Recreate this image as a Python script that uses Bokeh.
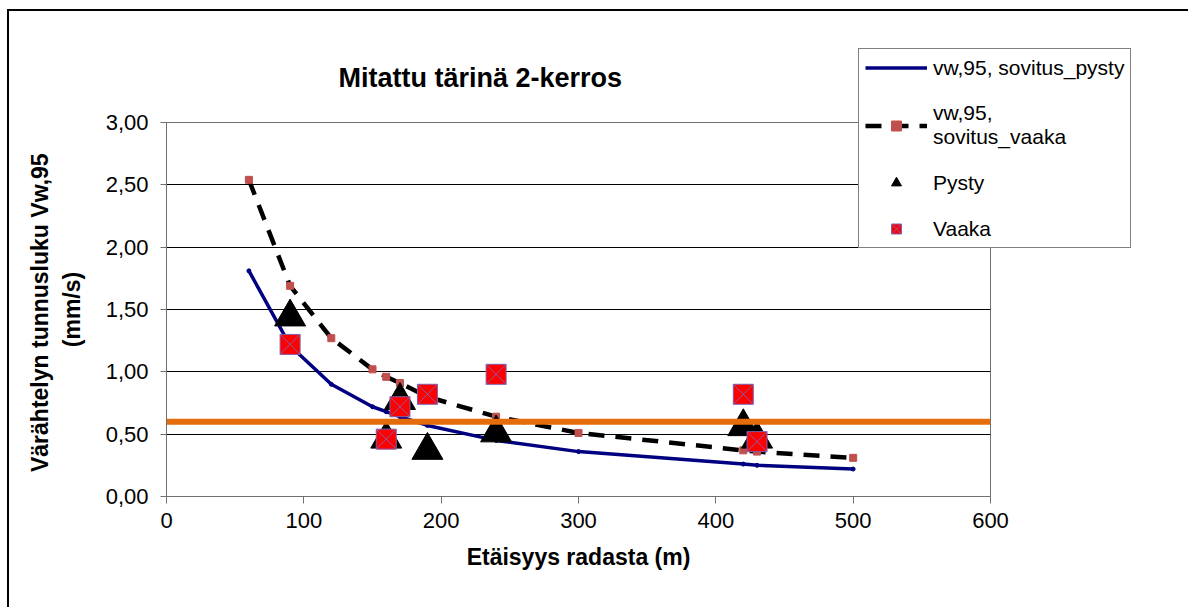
from bokeh.plotting import figure
from bokeh.models import FixedTicker, CustomJSTickFormatter, Legend, LegendItem
from bokeh.embed import file_html
from bokeh.resources import INLINE

# ---- data ----
fit_x = [60, 90, 120, 150, 160, 170, 190, 240, 300, 420, 430, 500]
fit_pysty = [1.81, 1.21, 0.90, 0.72, 0.68, 0.64, 0.57, 0.45, 0.36, 0.26, 0.25, 0.22]
fit_vaaka = [2.54, 1.69, 1.27, 1.02, 0.96, 0.91, 0.80, 0.64, 0.51, 0.37, 0.36, 0.31]

meas_x = [90, 160, 170, 190, 240, 420, 430]
pysty = [1.44, 0.46, 0.77, 0.37, 0.51, 0.56, 0.46]
vaaka = [1.22, 0.46, 0.72, 0.82, 0.98, 0.82, 0.44]

limit_x = [0, 600]
limit_y = [0.60, 0.60]

x_ticks = [0, 100, 200, 300, 400, 500, 600]
y_ticks = [0.0, 0.5, 1.0, 1.5, 2.0, 2.5, 3.0]

FONT = "Liberation Sans"

p = figure(frame_width=824, frame_height=374, output_backend="svg", toolbar_location=None,
           x_range=(0, 600), y_range=(0, 3),
           min_border_left=157, min_border_right=198,
           min_border_top=111, min_border_bottom=111,
           background_fill_color="white", border_fill_color="white")
p.styles = {"margin-left": "7px", "margin-top": "9px",
            "border-left": "2px solid black", "border-top": "2px solid black"}

# title
p.title.text = "Mitattu tärinä 2-kerros"
p.title.text_font = FONT
p.title.text_font_size = "27px"
p.title.text_font_style = "bold"
p.title.text_color = "black"
p.title.align = "left"
p.title.offset = 172
p.title.standoff = 60

# axes
p.xaxis.ticker = FixedTicker(ticks=x_ticks)
p.yaxis.ticker = FixedTicker(ticks=y_ticks)
p.yaxis.formatter = CustomJSTickFormatter(code="return tick.toFixed(2).replace('.', ',');")
for ax in (p.xaxis, p.yaxis):
    ax.axis_line_color = "#707070"
    ax.major_tick_line_color = "#707070"
    ax.minor_tick_line_color = None
    ax.major_tick_in = 0
    ax.major_label_text_font = FONT
    ax.major_label_text_font_size = "22px"
    ax.major_label_text_color = "black"
    ax.axis_label_text_font = FONT
    ax.axis_label_text_font_size = "23px"
    ax.axis_label_text_font_style = "bold"
    ax.axis_label_text_color = "black"
p.xaxis.major_tick_out = 7
p.yaxis.major_tick_out = 6
p.yaxis.major_label_standoff = 12
p.xaxis.major_label_standoff = 9
p.xaxis.axis_label = "Etäisyys radasta (m)"
p.yaxis.axis_label = "Värähtelyn tunnusluku  Vw,95\n(mm/s)"
p.yaxis.axis_label_standoff = 18
p.xaxis.axis_label_standoff = 13

p.xgrid.visible = False
p.ygrid.grid_line_color = "black"
p.ygrid.grid_line_width = 1
p.outline_line_color = "#707070"

# fitted curves
r_pl = p.line(fit_x, fit_pysty, line_color="#000080", line_width=3.5)
r_pm = p.scatter(fit_x, fit_pysty, marker="circle", size=4, color="#000080")
r_vl = p.line(fit_x, fit_vaaka, line_color="black", line_width=4.5, line_dash="16 11")
r_vm = p.scatter(fit_x, fit_vaaka, marker="square", size=7, color="#C0504D")

# measurements
r_tri = p.scatter(meas_x, pysty, marker="triangle", size=31, color="black")
r_sq = p.scatter(meas_x, vaaka, marker="square_x", size=20, fill_color="#FF0000",
                 line_color="#8060B0", line_width=1)

# limit line
p.line(limit_x, limit_y, line_color="#E46C0A", line_width=6)

legend = Legend(items=[
    LegendItem(label="vw,95, sovitus_pysty", renderers=[r_pl]),
    LegendItem(label="vw,95,\nsovitus_vaaka", renderers=[r_vl, r_vm]),
    LegendItem(label="Pysty", renderers=[r_tri]),
    LegendItem(label="Vaaka", renderers=[r_sq]),
], location=(-132, 248))
legend.border_line_color = "black"
legend.border_line_width = 1
legend.background_fill_color = "white"
legend.background_fill_alpha = 1
legend.padding = 6
legend.spacing = 21
legend.margin = -45
legend.label_height = 25
legend.glyph_height = 25
legend.glyph_width = 62
legend.label_standoff = 6
legend.label_text_font = FONT
legend.label_text_font_size = "21px"
legend.label_text_color = "black"
p.add_layout(legend, "right")

open("out.html", "w").write(file_html(p, INLINE))
